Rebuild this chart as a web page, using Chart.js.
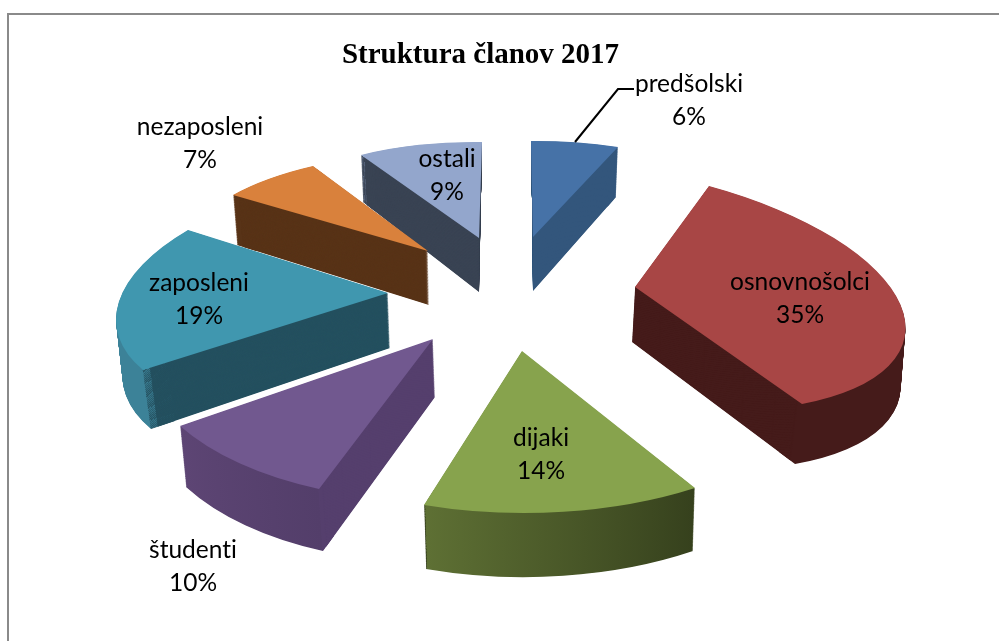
<!DOCTYPE html>
<html><head><meta charset="utf-8">
<style>html,body{margin:0;padding:0;background:#fff}canvas{display:block}</style>
<script src="https://cdn.jsdelivr.net/npm/chart.js@4"></script>
</head><body><canvas id="c" width="999" height="641"></canvas>
<script>
const categories = ['predšolski','osnovnošolci','dijaki','študenti','zaposleni','nezaposleni','ostali'];
const shares = [6,35,14,10,19,7,9];
const chartTitle = 'Struktura članov 2017';

const topColors = ['#4672A7','#A84645','#87A34D','#71588F','#4097AF','#D9813C','#93A6CC'];
const cutColors = ['#33567C','#451B1A','#36411D','#553F6D','#24505F','#583317','#394353'];
const rimStart  = ['#33567C','#451B1A','#36411D','#533E6A','#3C8298','#583317','#7F92B5'];
const rimEnd    = ['#33567C','#451B1A','#5E7034','#5D4574','#3C8298','#583317','#7F92B5'];

// [apex, start-edge tip, end-edge tip] of each slice's top and bottom face
const topFaces = [
  [[533,237],[531,141],[618,147]],
  [[635,287],[709,186],[802,404]],
  [[522,351],[695,488],[424,505]],
  [[433,339],[319,489],[180,426]],
  [[388,293],[143,370],[188,230]],
  [[428,251],[233,195],[313,166]],
  [[479,238],[361,155],[482,142]]
];
const bottomFaces = [
  [[533,291],[532,190],[616,197]],
  [[632,342],[709,240],[795,464]],
  [[522,410],[693,551],[426,569]],
  [[435,397],[323,551],[186,487]],
  [[390,348],[151,429],[190,285]],
  [[429,305],[237,245],[315,215]],
  [[479,292],[363,202],[481,195]]
];
const drawOrder = [0,6,5,1,4,3,2];
const labelCentres = [[689,84],[800,282],[541,438],[193,550],[199,283],[200,127],[447,159]];
const lineGap = 33;
const leader = [[634,89],[618,89],[575,142]];

function lerpFace(a,b,t){return a.map((p,i)=>[p[0]+(b[i][0]-p[0])*t,p[1]+(b[i][1]-p[1])*t]);}

function drawFace(ctx,arc,face,fill,outerFactor,innerFactor){
  const a0=arc.startAngle,a1=arc.endAngle,cx=arc.x,cy=arc.y;
  const R=arc.outerRadius;
  const u1=[Math.cos(a0),Math.sin(a0)],u2=[Math.cos(a1),Math.sin(a1)];
  const det=u1[0]*u2[1]-u2[0]*u1[1];
  const P=face[0],v1=[face[1][0]-P[0],face[1][1]-P[1]],v2=[face[2][0]-P[0],face[2][1]-P[1]];
  const a=(v1[0]*u2[1]-v2[0]*u1[1])/det/R, c=(-v1[0]*u2[0]+v2[0]*u1[0])/det/R;
  const b=(v1[1]*u2[1]-v2[1]*u1[1])/det/R, d=(-v1[1]*u2[0]+v2[1]*u1[0])/det/R;
  ctx.save();
  ctx.transform(a,b,c,d,P[0]-a*cx-c*cy,P[1]-b*cx-d*cy);
  const saved=arc.options;
  arc.options={backgroundColor:fill,borderWidth:0,borderColor:'transparent',offset:0,spacing:0,borderRadius:0,borderJoinStyle:'round',borderDash:[],borderDashOffset:0,circular:true};
  arc.outerRadius=R*outerFactor;
  arc.innerRadius=R*(innerFactor||0);
  arc.draw(ctx);
  arc.outerRadius=R;
  arc.innerRadius=0;
  arc.options=saved;
  ctx.restore();
}

const pie3d={
  id:'pie3d',
  beforeDraw(chart){
    const ctx=chart.ctx;
    ctx.save();
    ctx.fillStyle='#8A8A8A';
    ctx.fillRect(7,13,992,2);
    ctx.fillRect(7,13,2,628);
    ctx.restore();
  },
  beforeDatasetsDraw(chart){
    const ctx=chart.ctx,arcs=chart.getDatasetMeta(0).data;
    const steps=90;
    drawOrder.forEach(i=>{
      const arc=arcs[i];
      const span=(arc.endAngle-arc.startAngle)/(2*Math.PI),e=0.0005;
      const rim=ctx.createConicGradient(arc.startAngle,arc.x,arc.y);
      rim.addColorStop(0,cutColors[i]);
      rim.addColorStop(e,cutColors[i]);
      rim.addColorStop(e,rimStart[i]);
      rim.addColorStop(span-e,rimEnd[i]);
      rim.addColorStop(span-e,cutColors[i]);
      rim.addColorStop(1,cutColors[i]);
      for(let s=0;s<steps;s++){
        const f=lerpFace(bottomFaces[i],topFaces[i],s/steps);
        drawFace(ctx,arc,f,rim,1,0.9);
        drawFace(ctx,arc,f,cutColors[i],0.97,0);
      }
      drawFace(ctx,arc,topFaces[i],topColors[i],1,0);
    });
    ctx.save();
    ctx.strokeStyle='#000';ctx.lineWidth=2;ctx.beginPath();
    leader.forEach((p,k)=>k?ctx.lineTo(p[0],p[1]):ctx.moveTo(p[0],p[1]));
    ctx.stroke();
    ctx.fillStyle='#000';ctx.font='24.5px Lato';ctx.textAlign='center';ctx.textBaseline='middle';
    ctx.letterSpacing='0.01px';
    categories.forEach((n,i)=>{
      ctx.fillText(n,labelCentres[i][0],labelCentres[i][1]);
      ctx.fillText(shares[i]+'%',labelCentres[i][0],labelCentres[i][1]+lineGap);
    });
    ctx.restore();
    return false;
  }
};

new Chart(document.getElementById('c'),{
  type:'pie',
  data:{labels:categories,datasets:[{data:shares,backgroundColor:topColors,borderWidth:0}]},
  options:{
    responsive:false,animation:false,
    layout:{padding:{right:38,top:38}},
    plugins:{
      legend:{display:false},tooltip:{enabled:false},
      title:{display:true,text:chartTitle,color:'#000',font:{family:'"Liberation Serif"',size:29,weight:'bold'},padding:0}
    }
  },
  plugins:[pie3d]
});
</script></body></html>
